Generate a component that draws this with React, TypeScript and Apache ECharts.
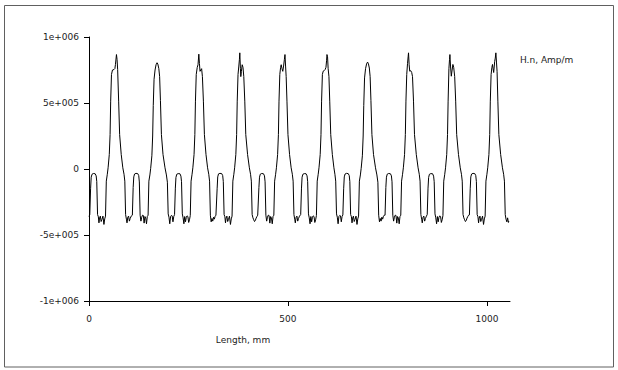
import React, { useEffect, useRef } from "react";
import * as echarts from "echarts";

// ---- Axis data ----
const xTickValues = [0, 500, 1000];
const xTickLabels = ["0", "500", "1000"];
const yTickValues = [-1000000, -500000, 0, 500000, 1000000];
const yTickLabels = ["-1e+006", "-5e+005", "0", "5e+005", "1e+006"];
const xAxisTitle = "Length, mm";
const yAxisTitle = "H.n, Amp/m";

// ---- Series data ----
// Each cycle: [offset mm from the cycle's small-bump centre, H.n in kAmp/m]
const leadIn: number[][] = [[0, -360]];
const cycleOrigins = [13, 120, 226, 331, 436, 543, 649, 755, 861, 967];

const cycle1 = [[-11,-345],[-9,-150],[-7.5,-62],[-5.5,-40],[-2,-34],[2.5,-36],[5,-52],[6.5,-95],[8.5,-345],[10.5,-362],[12,-408],[13.5,-372],[15.5,-357],[17.5,-398],[19.5,-382],[22,-357],[24.5,-420],[26.5,-378],[28.5,-357],
[30.5,-92],[33,-40],[35,9],[38,110],[40,261],[41.5,514],[43.5,716],[46,750],[50,754],[52,760],[53.5,792],[56,867],[57.5,830],[59,754],[61.5,514],[64,261],[68,110],[72,9],[75,-40],[77,-92],[79,-345],
[81,-380],[82.5,-408],[84.5,-365],[86.5,-357],[88.5,-395],[90.5,-375],[93,-357]];
const cycle2 = [[-11,-350],[-9,-140],[-7.5,-60],[-5.5,-38],[-2,-33],[2.5,-35],[5,-50],[6.5,-98],[8.5,-350],[10.5,-395],[12.5,-365],[14.5,-350],[16.5,-352],[18.5,-410],[20.5,-360],[22.5,-372],[24.5,-415],[26.5,-360],[28.5,-350],
[30.5,-92],[33,-45],[35,5],[38,100],[40,250],[41.5,480],[43.5,680],[46,750],[48.5,790],[51,805],[53,795],[55.5,760],[57.5,700],[59.5,520],[62,261],[66,110],[71,9],[74.5,-45],[77,-100],[79,-340],
[81,-365],[83,-415],[85,-360],[87,-352],[89,-355],[91,-400],[93,-360]];
const cycle3 = [[-11,-345],[-9,-145],[-7.5,-64],[-5.5,-40],[-2,-35],[2.5,-36],[5,-54],[6.5,-96],[8.5,-340],[10.5,-370],[12.5,-415],[14.5,-360],[16.5,-400],[18.5,-365],[20.5,-355],[22.5,-360],[24.5,-405],[26.5,-385],[28.5,-352],
[30.5,-92],[33,-40],[35,9],[38,110],[40,261],[41.5,514],[43.5,716],[46,770],[48,790],[50,870],[51.5,800],[53,740],[55,750],[57,760],[59,700],[61.5,514],[64,261],[68,110],[72,9],[75,-40],[77,-92],[79,-350],
[81,-400],[83,-375],[85,-395],[87,-365],[89,-380],[91,-358],[93,-350]];
const cycle4 = [[-11,-348],[-9,-150],[-7.5,-60],[-5.5,-37],[-2,-33],[2.5,-35],[5,-50],[6.5,-95],[8.5,-345],[10.5,-362],[12,-408],[13.5,-372],[15.5,-357],[17.5,-398],[19.5,-382],[22,-357],[24.5,-420],[26.5,-378],[28.5,-357],
[30.5,-92],[33,-40],[35,9],[38,110],[40,261],[41.5,514],[43.5,716],[45.5,780],[47,830],[48,880],[49.5,760],[50.5,700],[52,740],[54,790],[56,770],[58,700],[60.5,514],[63,261],[67.5,110],[72,9],[75,-40],[77,-92],[79,-345],
[81,-370],[83,-385],[85,-398],[87,-390],[89,-372],[91,-360],[93,-350]];
const cycle5 = [[-11,-350],[-9,-140],[-7.5,-62],[-5.5,-39],[-2,-34],[2.5,-36],[5,-52],[6.5,-97],[8.5,-350],[10.5,-395],[12.5,-365],[14.5,-350],[16.5,-352],[18.5,-410],[20.5,-360],[22.5,-372],[24.5,-415],[26.5,-360],[28.5,-350],
[30.5,-92],[33,-40],[35,9],[38,110],[40,261],[41.5,514],[43.5,716],[45.5,770],[47,790],[49,760],[51,740],[53,780],[55,830],[56.5,867],[58,780],[59.5,700],[61.5,514],[64,261],[68,110],[72,9],[75,-40],[77,-92],[79,-345],
[81,-380],[82.5,-408],[84.5,-365],[86.5,-357],[88.5,-395],[90.5,-375],[93,-357]];
const cycle6 = [[-11,-345],[-9,-145],[-7.5,-62],[-5.5,-40],[-2,-35],[2.5,-36],[5,-52],[6.5,-96],[8.5,-340],[10.5,-370],[12.5,-415],[14.5,-360],[16.5,-400],[18.5,-365],[20.5,-355],[22.5,-360],[24.5,-405],[26.5,-385],[28.5,-352],
[30.5,-92],[33,-40],[35,9],[38,110],[40,261],[41.5,514],[43.5,716],[45.5,741],[48,745],[50.5,754],[52.5,770],[54,820],[55,867],[56.5,850],[58,760],[60,700],[62,514],[64.5,261],[68.5,110],[72.5,9],[75,-40],[77,-92],[79,-340],
[81,-365],[83,-415],[85,-360],[87,-352],[89,-355],[91,-400],[93,-360]];
const cycle7 = [[-11,-348],[-9,-150],[-7.5,-60],[-5.5,-38],[-2,-33],[2.5,-35],[5,-50],[6.5,-95],[8.5,-345],[10.5,-362],[12,-408],[13.5,-372],[15.5,-357],[17.5,-398],[19.5,-382],[22,-357],[24.5,-420],[26.5,-378],[28.5,-357],
[30.5,-92],[33,-45],[35,5],[38,100],[40,250],[41.5,480],[43.5,690],[46,760],[48.5,795],[51,810],[53,800],[55.5,765],[57.5,700],[59.5,520],[62,261],[66,110],[71,9],[74.5,-45],[77,-100],[79,-350],
[81,-400],[83,-375],[85,-395],[87,-365],[89,-380],[91,-358],[93,-350]];
const cycle8 = [[-11,-350],[-9,-140],[-7.5,-62],[-5.5,-39],[-2,-34],[2.5,-36],[5,-52],[6.5,-97],[8.5,-350],[10.5,-395],[12.5,-365],[14.5,-350],[16.5,-352],[18.5,-410],[20.5,-360],[22.5,-372],[24.5,-415],[26.5,-360],[28.5,-350],
[30.5,-92],[33,-40],[35,9],[38,110],[40,261],[41.5,514],[43.5,716],[45.5,800],[47,850],[48,880],[49.5,790],[51,741],[53.5,745],[56,731],[58,700],[60.5,514],[63,261],[67.5,110],[72,9],[75,-40],[77,-92],[79,-345],
[81,-380],[82.5,-408],[84.5,-365],[86.5,-357],[88.5,-395],[90.5,-375],[93,-357]];
const cycle9 = [[-11,-345],[-9,-145],[-7.5,-64],[-5.5,-40],[-2,-35],[2.5,-36],[5,-54],[6.5,-96],[8.5,-340],[10.5,-370],[12.5,-415],[14.5,-360],[16.5,-400],[18.5,-365],[20.5,-355],[22.5,-360],[24.5,-405],[26.5,-385],[28.5,-352],
[30.5,-92],[33,-40],[35,9],[38,110],[40,261],[41.5,514],[43.5,760],[45,830],[46,867],[47.5,780],[49.5,703],[51.5,750],[53.5,792],[55.5,770],[58,700],[60.5,514],[63,261],[67.5,110],[72,9],[75,-40],[77,-92],[79,-345],
[81,-370],[83,-385],[85,-398],[87,-390],[89,-372],[91,-360],[93,-350]];
const cycle10 = [[-11,-348],[-9,-150],[-7.5,-60],[-5.5,-38],[-2,-33],[2.5,-35],[5,-50],[6.5,-95],[8.5,-345],[10.5,-362],[12,-408],[13.5,-372],[15.5,-357],[17.5,-398],[19.5,-382],[22,-357],[24.5,-420],[26.5,-378],[28.5,-357],
[30.5,-92],[33,-40],[35,9],[38,110],[40,261],[41.5,514],[43.5,716],[45.5,770],[47,792],[48.5,760],[50,731],[51.5,780],[52.5,815],[54,840],[55.5,880],[57,810],[58.5,740],[60.5,514],[63,261],[67.5,110],[72,9],[75,-40],[77,-92],[79,-345],
[81,-380],[83,-400],[85,-370],[87,-405],[88,-395]];

const cycles = [cycle1, cycle2, cycle3, cycle4, cycle5, cycle6, cycle7, cycle8, cycle9, cycle10];

function buildSeriesData(): number[][] {
  const out: number[][] = leadIn.map(([x, v]) => [x, v * 1000]);
  cycles.forEach((cyc, i) => {
    const origin = cycleOrigins[i];
    cyc.forEach(([dx, v]) => out.push([origin + dx, v * 1000]));
  });
  return out;
}

const FONT = "DejaVu Sans";

export default function App() {
  const ref = useRef<HTMLDivElement>(null);
  useEffect(() => {
    if (!ref.current) return;
    const chart = echarts.init(ref.current, undefined, { renderer: "svg" });
    const yLabelMap: Record<string, string> = {};
    yTickValues.forEach((v, i) => (yLabelMap[String(v)] = yTickLabels[i]));
    const xLabelMap: Record<string, string> = {};
    xTickValues.forEach((v, i) => (xLabelMap[String(v)] = xTickLabels[i]));
    chart.setOption({
      animation: false,
      backgroundColor: "#ffffff",
      grid: { left: 89, right: 108, top: 37, bottom: 69, containLabel: false },
      xAxis: {
        type: "value",
        min: 0,
        max: 1058,
        interval: 500,
        axisLine: { show: true, onZero: false, lineStyle: { color: "#000", width: 1 } },
        axisTick: { show: true, length: 5, inside: false, customValues: xTickValues, lineStyle: { color: "#000" } },
        axisLabel: {
          customValues: xTickValues,
          margin: 13,
          color: "#222",
          fontFamily: FONT,
          fontSize: 9,
          formatter: (v: number) => xLabelMap[String(v)] ?? String(v),
        },
        splitLine: { show: false },
      },
      yAxis: {
        type: "value",
        min: -1000000,
        max: 1000000,
        interval: 500000,
        axisLine: { show: true, onZero: false, lineStyle: { color: "#000", width: 1 } },
        axisTick: { show: true, length: 5, inside: false, lineStyle: { color: "#000" } },
        axisLabel: {
          margin: 10,
          color: "#222",
          fontFamily: FONT,
          fontSize: 9,
          formatter: (v: number) => yLabelMap[String(v)] ?? String(v),
        },
        splitLine: { show: false },
      },
      graphic: [
        {
          type: "rect",
          shape: { x: 4.5, y: 5.5, width: 609, height: 361.5 },
          style: { fill: "none", stroke: "#606060", lineWidth: 1 },
          silent: true,
        },
        {
          type: "text",
          x: 520,
          y: 60,
          style: { text: yAxisTitle, fill: "#222", font: `9px "${FONT}"`, textAlign: "left", textVerticalAlign: "middle" },
        },
        {
          type: "text",
          x: 243,
          y: 340,
          style: { text: xAxisTitle, fill: "#222", font: `9px "${FONT}"`, textAlign: "center", textVerticalAlign: "middle" },
        },
      ],
      series: [
        {
          type: "line",
          data: buildSeriesData(),
          showSymbol: false,
          symbol: "none",
          lineStyle: { color: "#000", width: 1 },
          silent: true,
        },
      ],
    });
    return () => chart.dispose();
  }, []);
  return <div ref={ref} style={{ position: "absolute", left: 0, top: 0, width: 618, height: 370 }} />;
}
